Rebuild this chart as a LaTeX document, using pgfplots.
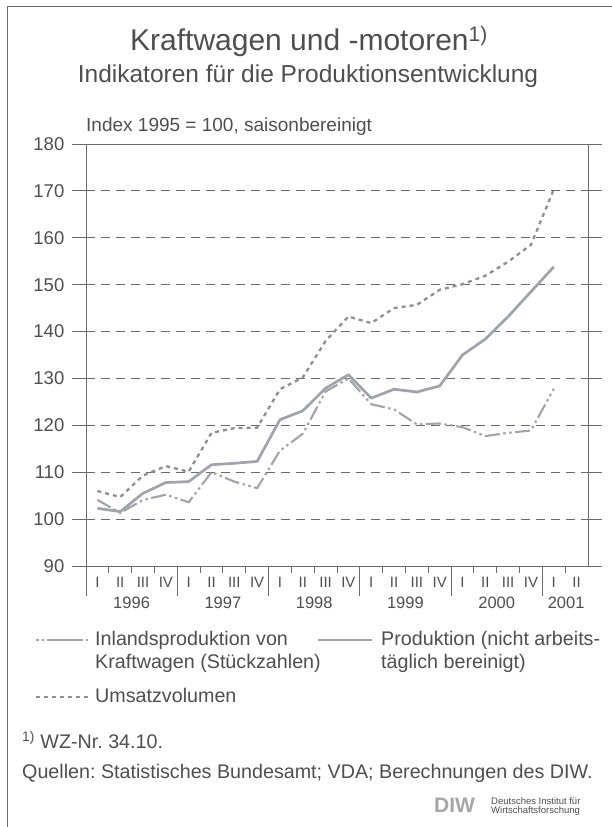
\documentclass[border=0pt]{standalone}
\usepackage{fontspec}
\setmainfont{Liberation Sans}
\usepackage{pgfplots}
\pgfplotsset{compat=1.18}
\definecolor{txt}{HTML}{4E4E4E}
\definecolor{ln}{HTML}{A2A2AA}
\definecolor{umz}{HTML}{8E8E98}
\definecolor{grd}{HTML}{6A6A6A}
\newcommand{\fs}[1]{\fontsize{#1pt}{#1pt}\selectfont}
\frenchspacing
\begin{document}
\begin{tikzpicture}[x=1pt,y=1pt]
\path[use as bounding box] (0,0) rectangle (612,827);
\draw[grd, line width=0.8pt] (7,0) -- (7,821) -- (612,821);
% titles
\node[anchor=base, text=txt, font=\fs{30}, inner sep=0pt] at (309,776) {Kraftwagen und -motoren\textsuperscript{1)}};
\node[anchor=base, text=txt, font=\fs{24.5}, inner sep=0pt] at (308,744) {Indikatoren für die Produktionsentwicklung};
\node[anchor=base west, text=txt, font=\fs{19}, inner sep=0pt] at (86,695) {Index 1995 = 100, saisonbereinigt};
\begin{axis}[
  at={(86pt,261pt)}, anchor=south west,
  scale only axis, width=502pt, height=422pt,
  xmin=-0.5, xmax=21.5, ymin=90, ymax=180,
  axis line style={grd, line width=0.9pt},
  ytick={90,100,...,180},
  tick align=outside, major tick length=14pt,
  tick style={grd, line width=0.9pt},
  xtick={0,...,21},
  xticklabels={I,II,III,IV,I,II,III,IV,I,II,III,IV,I,II,III,IV,I,II,III,IV,I,II},
  xtick style={draw=none},
  xticklabel style={font=\fs{15}, text=txt, anchor=base, yshift=-7.6pt, inner sep=0pt},
  yticklabel style={font=\fs{18.5}, text=txt, anchor=east, inner sep=0pt, xshift=-7.5pt},
  /pgf/number format/assume math mode=true,
  ymajorgrids, grid style={grd, line width=0.8pt, dash pattern=on 9pt off 6pt},
  clip=false,
]
% Umsatzvolumen
\addplot[umz, line width=2.3pt, dash pattern=on 4pt off 4pt] coordinates {
(0,106.0) (1,104.7) (2,109.3) (3,111.3) (4,110.1) (5,118.4) (6,119.4) (7,119.5)
(8,127.7) (9,130.2) (10,138.0) (11,143.2) (12,141.8) (13,145.0) (14,145.7) (15,148.9)
(16,150.1) (17,151.9) (18,154.9) (19,158.5) (20,170.3)};
% Inlandsproduktion
\addplot[ln, line width=2.1pt, dash pattern=on 15pt off 3.5pt on 2.5pt off 3.5pt on 2.5pt off 3.5pt] coordinates {
(0,104.1) (1,101.3) (2,104.1) (3,105.2) (4,103.6) (5,110.0) (6,108.0) (7,106.6)
(8,114.6) (9,118.2) (10,127.2) (11,130.0) (12,124.5) (13,123.4) (14,120.2) (15,120.4)
(16,119.6) (17,117.7) (18,118.4) (19,118.9) (20,127.8)};
% Produktion
\addplot[ln, line width=2.7pt, line join=round] coordinates {
(0,102.3) (1,101.6) (2,105.5) (3,107.8) (4,108.0) (5,111.6) (6,111.9) (7,112.3)
(8,121.2) (9,123.1) (10,127.9) (11,130.8) (12,125.8) (13,127.7) (14,127.1) (15,128.4)
(16,135.0) (17,138.4) (18,143.2) (19,148.5) (20,153.8)};
\end{axis}
% x axis boundary ticks
\foreach \b in {1,2,3,5,6,7,9,10,11,13,14,15,17,18,19,21}
  \draw[grd, line width=0.9pt] ({86+22.818*\b},261) -- ++(0,-7);
\foreach \b in {0,4,8,12,16,20}
  \draw[grd, line width=0.9pt] ({86+22.818*\b},261) -- ++(0,-30);
% year labels
\foreach \xx/\yy in {131.6/1996, 222.9/1997, 314.2/1998, 405.4/1999, 496.7/2000, 566.1/2001}
  \node[anchor=base, text=txt, font=\fs{16.5}, inner sep=0pt] at (\xx,218.5) {\yy};
% legend
\draw[ln, line width=2.1pt, dash pattern=on 2.5pt off 3pt on 2.5pt off 3pt on 36pt off 3pt] (36,187) -- (88,187);
\node[anchor=base west, text=txt, font=\fs{19.7}, inner sep=0pt] at (95,181) {Inlandsproduktion von};
\node[anchor=base west, text=txt, font=\fs{19.7}, inner sep=0pt] at (95,158) {Kraftwagen (Stückzahlen)};
\draw[ln, line width=2.7pt] (318,187) -- (372,187);
\node[anchor=base west, text=txt, font=\fs{19.7}, inner sep=0pt] at (381,181) {Produktion (nicht arbeits-};
\node[anchor=base west, text=txt, font=\fs{19.7}, inner sep=0pt] at (381,158) {täglich bereinigt)};
\draw[umz, line width=2.3pt, dash pattern=on 4pt off 4pt] (36,130) -- (88,130);
\node[anchor=base west, text=txt, font=\fs{19.7}, inner sep=0pt] at (95,124) {Umsatzvolumen};
% footnotes
\node[anchor=base west, text=txt, font=\fs{19.7}, inner sep=0pt] at (22,78) {\textsuperscript{1)} WZ-Nr. 34.10.};
\node[anchor=base west, text=txt, font=\fs{19.7}, inner sep=0pt] at (22,48) {Quellen: Statistisches Bundesamt; VDA; Berechnungen des DIW.};
% DIW logo
\node[anchor=base west, text=gray!70, font=\fs{21}\bfseries, inner sep=0pt] at (434,14) {DIW};
\node[anchor=base west, text=txt, font=\fs{9.5}, inner sep=0pt] at (491,23) {Deutsches Institut für};
\node[anchor=base west, text=txt, font=\fs{9.5}, inner sep=0pt] at (491,13) {Wirtschaftsforschung};
\end{tikzpicture}
\end{document}
